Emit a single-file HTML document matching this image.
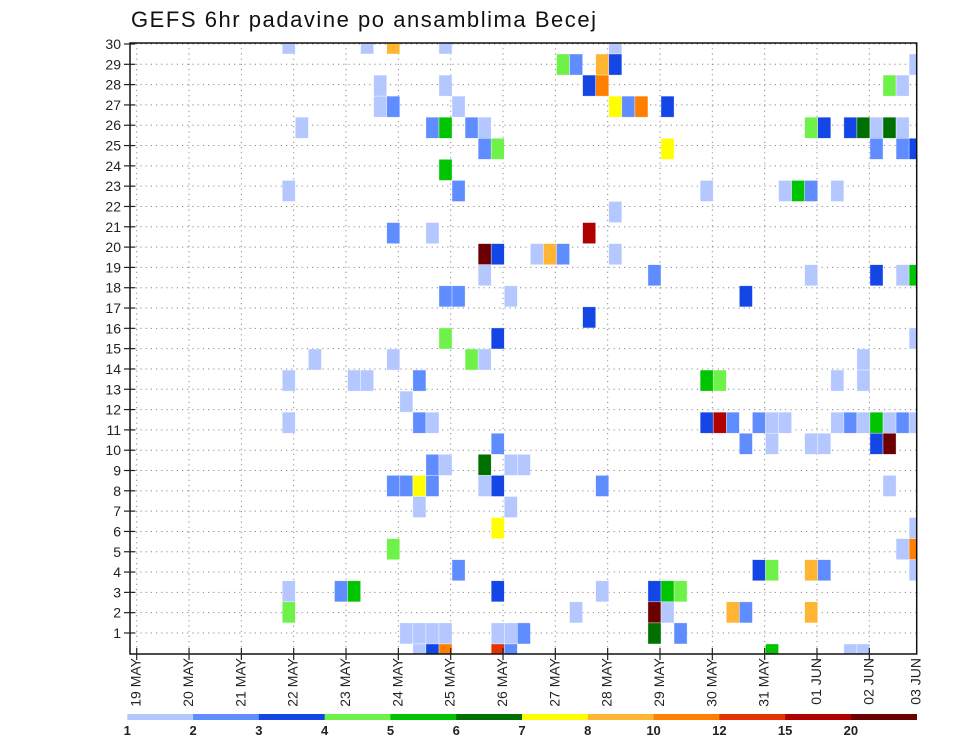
<!DOCTYPE html>
<html><head><meta charset="utf-8"><title>GEFS 6hr padavine</title>
<style>
html,body{margin:0;padding:0;background:#fff;}
svg{display:block;font-family:"Liberation Sans",sans-serif;}
</style></head>
<body>
<svg id="chart" width="960" height="742" viewBox="0 0 960 742">
  <defs><clipPath id="plotclip"><rect x="130" y="43" width="786.7" height="611"/></clipPath></defs>
  <text x="131" y="27" font-size="22" fill="#111" textLength="465" lengthAdjust="spacing">GEFS 6hr padavine po ansamblima Becej</text>
  <g id="grid"></g>
  <g id="cells" clip-path="url(#plotclip)"></g>
  <rect x="130" y="43" width="786.7" height="611" fill="none" stroke="#111" stroke-width="1.5"/>
  <g id="yaxis"></g>
  <g id="xaxis"></g>
  <g id="legend"></g>
</svg>
<script>
// ---- data ----
const levelLabels = ["1","2","3","4","5","6","7","8","10","12","15","20"];
const levelColors = ["#b4c8ff","#5f8cff","#1446e6","#6ef24a","#00c400","#007000","#ffff00","#ffb432","#ff8000","#e43200","#b00000","#6c0000"];
const dayLabels = ["19 MAY","20 MAY","21 MAY","22 MAY","23 MAY","24 MAY","25 MAY","26 MAY","27 MAY","28 MAY","29 MAY","30 MAY","31 MAY","01 JUN","02 JUN","03 JUN"];
const memberLabels = [1,2,3,4,5,6,7,8,9,10,11,12,13,14,15,16,17,18,19,20,21,22,23,24,25,26,27,28,29,30];
// cells: time step index, row index (0 = top), colour level index
const cellStep = [
11,17,19,23,36,
32,33,35,36,59,
18,23,34,35,57,58,
18,19,24,36,37,38,40,
12,22,23,25,26,51,52,54,55,56,57,58,
26,27,40,56,58,59,
23,
11,24,43,49,50,51,53,
36,
19,22,34,
26,27,30,31,32,36,
26,39,51,56,58,59,
23,24,28,46,
34,
23,27,59,
13,19,25,26,55,
11,16,17,21,43,44,53,55,
20,
11,21,22,43,44,45,47,48,49,53,54,55,56,57,58,59,
27,46,48,51,52,56,57,
22,23,26,28,29,
19,20,21,22,26,27,35,57,
21,28,
27,59,
19,58,59,
24,47,48,51,52,59,
11,15,16,27,35,39,40,41,
11,33,39,40,45,46,51,
20,21,22,23,27,28,29,39,41,
21,22,23,27,28,48,54,55];
const cellRow = [
0,0,0,0,0,
1,1,1,1,1,
2,2,2,2,2,2,
3,3,3,3,3,3,3,
4,4,4,4,4,4,4,4,4,4,4,4,
5,5,5,5,5,5,
6,
7,7,7,7,7,7,7,
8,
9,9,9,
10,10,10,10,10,10,
11,11,11,11,11,11,
12,12,12,12,
13,
14,14,14,
15,15,15,15,15,
16,16,16,16,16,16,16,16,
17,
18,18,18,18,18,18,18,18,18,18,18,18,18,18,18,18,
19,19,19,19,19,19,19,
20,20,20,20,20,
21,21,21,21,21,21,21,21,
22,22,
23,23,
24,24,24,
25,25,25,25,25,25,
26,26,26,26,26,26,26,26,
27,27,27,27,27,27,27,
28,28,28,28,28,28,28,28,28,
29,29,29,29,29,29,29,29];
const cellLevel = [
0,0,7,0,0,
3,1,7,2,0,
0,0,2,8,3,0,
0,1,0,6,1,8,2,
0,1,4,1,0,3,2,2,5,0,5,0,
1,3,6,1,1,2,
4,
0,1,0,0,4,1,0,
0,
1,0,10,
11,2,0,7,1,0,
0,1,0,2,0,4,
1,1,0,2,
2,
3,2,0,
0,0,3,0,0,
0,0,0,1,4,3,0,0,
0,
0,1,0,2,10,1,1,0,0,0,1,0,4,0,1,0,
1,1,0,0,0,2,11,
1,0,5,0,0,
1,1,6,1,0,2,1,0,
0,0,
6,0,
3,0,8,
1,2,3,7,1,0,
0,1,4,2,0,2,4,3,
3,0,11,0,7,1,7,
0,0,0,0,0,0,1,5,1,
0,2,8,9,1,4,0,0];

// ---- scales ----
const NS = "http://www.w3.org/2000/svg";
const cellX0 = 138.6, cellW = 13.06, cellY0 = 54, cellH = 21.07;
const dayX0 = 136.7, dayW = 52.33, frameRight = 916.7;
function xStep(n){ return cellX0 + cellW*n; }
function yRow(k){ return cellY0 + (k-1)*cellH; }
function xDay(i){ return i >= 15 ? frameRight : dayX0 + dayW*i; }
function yMember(m){ return 44 + (30-m)*20.31; }
function mk(tag, attrs, parent){ const e=document.createElementNS(NS,tag); for(const a in attrs) e.setAttribute(a, attrs[a]); parent.appendChild(e); return e; }

const grid = document.getElementById('grid');
const cells = document.getElementById('cells');
const yaxis = document.getElementById('yaxis');
const xaxis = document.getElementById('xaxis');
const legend = document.getElementById('legend');

// grid lines
memberLabels.forEach(function(m){
  const y = yMember(m);
  const l = mk('line',{x1:130,x2:916.7,y1:y,y2:y,stroke:'#8a8a8a','stroke-width':1,'stroke-dasharray':'1.2,4'},grid);
  
  
  const t = mk('line',{x1:124,x2:135,y1:y,y2:y,stroke:'#222','stroke-width':1.2},yaxis);
  
  
  const tx = mk('text',{x:121,y:y+5,'font-size':14,'text-anchor':'end',fill:'#222'},yaxis);
  tx.textContent = m;
  
  
});
dayLabels.forEach(function(lab,i){
  const x = xDay(i);
  if(i < 15){
    const l = mk('line',{x1:x,x2:x,y1:43,y2:654,stroke:'#8a8a8a','stroke-width':1,'stroke-dasharray':'1.2,4'},grid);
    
    
    const t = mk('line',{x1:x,x2:x,y1:648,y2:660,stroke:'#222','stroke-width':1.2},xaxis);
    
    
  }
  const tx = mk('text',{transform:'translate('+(x+4)+',658) rotate(-90)','font-size':14,'text-anchor':'end',fill:'#222'},xaxis);
  tx.textContent = lab;
  
  
});

// cells
for(let i=0;i<cellStep.length;i++){
  const r = mk('rect',{x:xStep(cellStep[i]),y:yRow(cellRow[i]),width:cellW,height:cellH,fill:levelColors[cellLevel[i]],stroke:'#ffffff','stroke-width':0.6,'stroke-opacity':0.6},cells);
  
  
}

// legend
const lx0 = 127.3, lx1 = 916.7, segW = (lx1-lx0)/levelColors.length;
levelColors.forEach(function(c,i){
  const r = mk('rect',{x:lx0+segW*i,y:714,width:segW+0.3,height:6,fill:c},legend);
  
  
  const t = mk('text',{x:lx0+segW*i,y:735,'font-size':13,'font-weight':'bold','text-anchor':'middle',fill:'#222'},legend);
  t.textContent = levelLabels[i];
  
  
});
</script>
</body></html>
